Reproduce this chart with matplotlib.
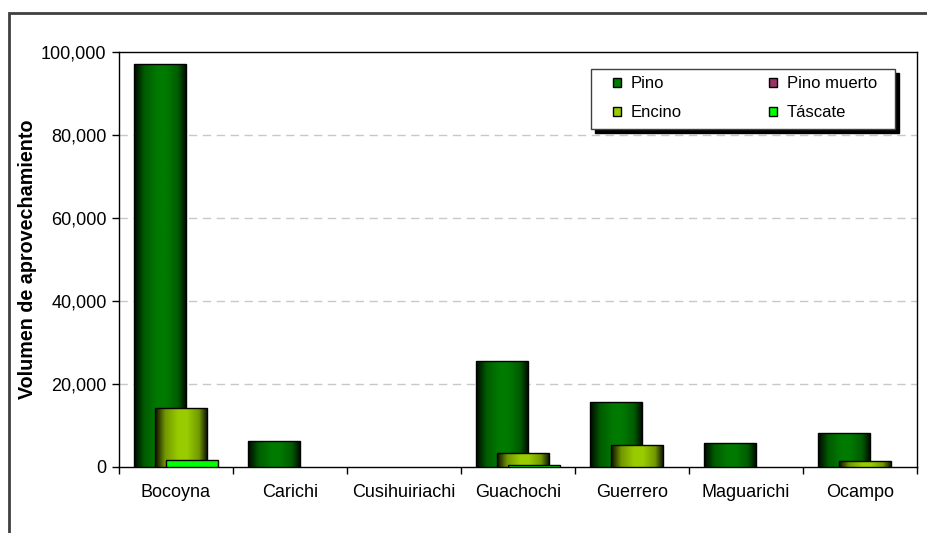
import numpy as np
import matplotlib
matplotlib.use("Agg")
import matplotlib.pyplot as plt
from matplotlib.colors import LinearSegmentedColormap, to_rgb
from matplotlib.patches import Patch, Rectangle
from matplotlib.ticker import FuncFormatter

plt.rcParams['font.family'] = ['Liberation Sans', 'DejaVu Sans']

categories = ["Bocoyna", "Carichi", "Cusihuiriachi", "Guachochi", "Guerrero", "Maguarichi", "Ocampo"]
series_names = ["Pino", "Pino muerto", "Encino", "Táscate"]
pino = [97100, 6100, 0, 25600, 15700, 5800, 8100]
pino_muerto = [0, 0, 0, 0, 0, 0, 0]
encino = [14100, 0, 0, 3300, 5300, 0, 1450]
tascate = [1700, 0, 0, 400, 0, 0, 0]
yticks = [0, 20000, 40000, 60000, 80000, 100000]

series_values = [pino, pino_muerto, encino, tascate]
colors = ["#007A00", "#993366", "#99CC00", "#00FF00"]
gradient = [True, True, True, False]
offsets = [-0.14, -0.047, 0.047, 0.14]
width = 0.456

W, H = 927, 533
fig = plt.figure(figsize=(W / 100, H / 100), dpi=100)
ax_l, ax_r, ax_t, ax_b = 119, 917, 52.3, 466.7
ax = fig.add_axes([ax_l / W, 1 - ax_b / H, (ax_r - ax_l) / W, (ax_b - ax_t) / H])

def px2ax(px, py):
    return (px - ax_l) / (ax_r - ax_l), (ax_b - py) / (ax_b - ax_t)

x = np.arange(len(categories))

def shade_cmap(c):
    r, g, b = to_rgb(c)
    dark0 = (r * 0.05, g * 0.05, b * 0.05)
    dark1 = (r * 0.12, g * 0.12, b * 0.12)
    mid = (r * 0.75, g * 0.75, b * 0.75)
    return LinearSegmentedColormap.from_list(
        "s", [(0, dark0), (0.2, mid), (0.45, (r, g, b)), (0.62, (r, g, b)), (0.85, mid), (1, dark1)])

grad = np.linspace(0, 1, 256).reshape(1, -1)

for i, (vals, col) in enumerate(zip(series_values, colors)):
    z = 3 + i
    bars = ax.bar(x + offsets[i], vals, width, color=col, edgecolor='none', zorder=z)
    if gradient[i]:
        cm = shade_cmap(col)
        for rect, v in zip(bars, vals):
            if v <= 0:
                continue
            x0 = rect.get_x()
            im = ax.imshow(grad, extent=(x0, x0 + rect.get_width(), 0, v), aspect='auto',
                           cmap=cm, origin='lower', zorder=z + 0.1, interpolation='bicubic')
            im.set_clip_path(rect)
    for rect, v in zip(bars, vals):
        if v <= 0:
            continue
        ax.add_patch(Rectangle((rect.get_x(), 0), rect.get_width(), v, fill=False,
                               edgecolor='black', linewidth=1.0, zorder=z + 0.2))

ax.set_xlim(-0.5, len(categories) - 0.5)
ax.set_ylim(0, 100000)
ax.set_yticks(yticks)
ax.yaxis.set_major_formatter(FuncFormatter(lambda v, p: f"{int(v):,}"))
ax.set_xticks(x)
ax.set_xticklabels(categories)
ax.set_xticks(np.arange(len(categories) + 1) - 0.5, minor=True)
ax.tick_params(axis='x', which='major', length=0, pad=12.5, labelsize=13)
ax.tick_params(axis='x', which='minor', length=5, width=1, direction='out')
ax.tick_params(axis='y', which='major', length=5, width=1, direction='out', pad=4, labelsize=13)

for yv in yticks[1:-1]:
    ax.axhline(yv, color='#C8C8C8', linewidth=1, linestyle=(0, (6, 4)), zorder=1)

for s in ax.spines.values():
    s.set_color('black')
    s.set_linewidth(1)

ax.set_ylabel("Volumen de aprovechamiento", fontsize=14.2, fontweight='bold', va='center')
ax.yaxis.set_label_coords(px2ax(28, 0)[0], 0.5)

# legend frame with solid shadow
bx0, by0 = px2ax(591, 129)
bx1, by1 = px2ax(895, 69)
sx0, sy0 = px2ax(594.5, 133)
ax.add_patch(Rectangle((sx0, sy0), bx1 - bx0, by1 - by0, transform=ax.transAxes,
                       facecolor='black', edgecolor='black', zorder=9, clip_on=False))
ax.add_patch(Rectangle((bx0, by0), bx1 - bx0, by1 - by0, transform=ax.transAxes,
                       facecolor='white', edgecolor='#404040', linewidth=1, zorder=9.5, clip_on=False))

handles = [Patch(facecolor=colors[0], edgecolor='black', label=series_names[0]),
           Patch(facecolor=colors[2], edgecolor='black', label=series_names[2]),
           Patch(facecolor=colors[1], edgecolor='black', label=series_names[1]),
           Patch(facecolor=colors[3], edgecolor='black', label=series_names[3])]
lx, ly = px2ax(613, 76)
leg = ax.legend(handles=handles, ncol=2, loc='upper left', bbox_to_anchor=(lx, ly),
                fontsize=12, frameon=False,
                handlelength=0.45, handleheight=0.45, handletextpad=0.6,
                labelspacing=0.85, columnspacing=5.25, borderpad=0, borderaxespad=0)
leg.set_zorder(10)

border = Rectangle((9 / W, -0.2), 1.3, (1 - 12.7 / H) + 0.2, transform=fig.transFigure,
                   fill=False, edgecolor='#404040', linewidth=2)
fig.add_artist(border)

fig.savefig("out.png", dpi=100, facecolor='white')
